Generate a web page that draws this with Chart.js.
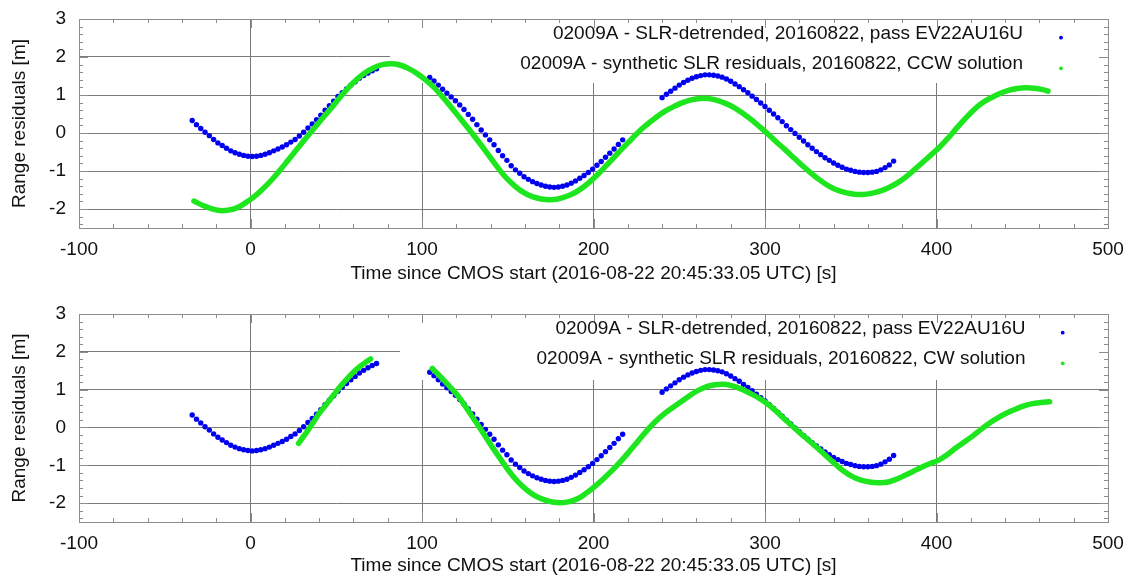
<!DOCTYPE html>
<html>
<head>
<meta charset="utf-8">
<script src="https://cdn.jsdelivr.net/npm/chart.js@4"></script>
<style>
  html, body { margin: 0; padding: 0; background: #fff; }
  .panel { width: 1130px; height: 290px; }
  canvas { display: block; }
</style>
</head>
<body>
<div class="panel"><canvas id="ccw" width="1130" height="290"></canvas></div>
<div class="panel"><canvas id="cw" width="1130" height="290"></canvas></div>
<script>
// SLR detrended residuals (same in both panels)
const slrTime = [
  -34, -31.5, -29, -26.5, -24, -21.5, -19, -16.5, -14, -11.5, -9, -6.5, -4, -1.5, 1, 3.5, 6, 8.5, 11, 13.5,
  16, 18.5, 21, 23.5, 26, 28.5, 31, 33.5, 36, 38.5, 41, 43.5, 46, 48.5, 51, 53.5, 56, 58.5, 61, 63.5,
  66, 68.5, 71, 73.5,
  104.5, 107, 109.5, 112, 114.5, 117, 119.5, 122, 124.5, 127, 129.5, 132, 134.5, 137, 139.5, 142, 144.5, 147, 149.5, 152,
  154.5, 157, 159.5, 162, 164.5, 167, 169.5, 172, 174.5, 177, 179.5, 182, 184.5, 187, 189.5, 192, 194.5, 197, 199.5, 202,
  204.5, 207, 209.5, 212, 214.5, 217,
  240, 242.5, 245, 247.5, 250, 252.5, 255, 257.5, 260, 262.5, 265, 267.5, 270, 272.5, 275, 277.5, 280, 282.5, 285, 287.5,
  290, 292.5, 295, 297.5, 300, 302.5, 305, 307.5, 310, 312.5, 315, 317.5, 320, 322.5, 325, 327.5, 330, 332.5, 335, 337.5,
  340, 342.5, 345, 347.5, 350, 352.5, 355, 357.5, 360, 362.5, 365, 367.5, 370, 372.5, 375
];
const slrRange = [
  0.33, 0.22, 0.12, 0.02, -0.07, -0.17, -0.26, -0.33, -0.40, -0.47, -0.52, -0.56, -0.59, -0.61, -0.62, -0.61, -0.59, -0.56, -0.52, -0.47,
  -0.42, -0.37, -0.31, -0.24, -0.17, -0.08, 0.02, 0.13, 0.24, 0.35, 0.47, 0.60, 0.72, 0.84, 0.96, 1.06, 1.16, 1.26, 1.35, 1.44,
  1.51, 1.58, 1.64, 1.69,
  1.46, 1.37, 1.26, 1.15, 1.05, 0.95, 0.85, 0.74, 0.62, 0.49, 0.36, 0.22, 0.08, -0.05, -0.18, -0.31, -0.46, -0.60, -0.72, -0.86,
  -0.97, -1.06, -1.15, -1.22, -1.28, -1.33, -1.37, -1.40, -1.42, -1.43, -1.42, -1.40, -1.37, -1.32, -1.26, -1.19, -1.12, -1.04, -0.95, -0.85,
  -0.75, -0.64, -0.53, -0.42, -0.30, -0.18,
  0.93, 1.02, 1.10, 1.18, 1.26, 1.33, 1.39, 1.44, 1.48, 1.51, 1.53, 1.53, 1.52, 1.50, 1.47, 1.42, 1.36, 1.29, 1.22, 1.14,
  1.06, 0.97, 0.88, 0.79, 0.70, 0.60, 0.50, 0.40, 0.30, 0.19, 0.09, -0.01, -0.11, -0.21, -0.31, -0.40, -0.49, -0.57, -0.65, -0.72,
  -0.79, -0.85, -0.90, -0.95, -0.98, -1.01, -1.03, -1.04, -1.04, -1.03, -1.01, -0.97, -0.91, -0.84, -0.74
];

// synthetic residuals, CCW solution (top panel)
const ccwTime = [
  -33, -28, -23, -18, -13, -8, -3, 2, 7, 12, 17, 22, 27, 32, 37, 42, 47, 52, 57, 62,
  67, 72, 77, 82, 87, 92, 97, 102, 107, 112, 117, 122, 127, 132, 137, 142, 147, 152, 157, 162,
  167, 172, 177, 182, 187, 192, 197, 202, 207, 212, 217, 222, 227, 232, 237, 242, 247, 252, 257, 262,
  267, 272, 277, 282, 287, 292, 297, 302, 307, 312, 317, 322, 327, 332, 337, 342, 347, 352, 357, 362,
  367, 372, 377, 382, 387, 392, 397, 402, 407, 412, 417, 422, 427, 432, 437, 442, 447, 452, 457, 462, 465
];
const ccwRange = [
  -1.79, -1.90, -1.99, -2.04, -2.03, -1.97, -1.84, -1.68, -1.48, -1.25, -0.99, -0.71, -0.43, -0.15, 0.12, 0.39, 0.65, 0.93, 1.19, 1.41,
  1.59, 1.72, 1.80, 1.82, 1.79, 1.70, 1.57, 1.40, 1.20, 0.95, 0.68, 0.40, 0.12, -0.17, -0.47, -0.78, -1.07, -1.31, -1.50, -1.63,
  -1.71, -1.75, -1.75, -1.70, -1.62, -1.49, -1.32, -1.11, -0.88, -0.64, -0.40, -0.17, 0.06, 0.25, 0.43, 0.58, 0.70, 0.80, 0.87, 0.91,
  0.91, 0.86, 0.78, 0.67, 0.52, 0.35, 0.16, -0.04, -0.25, -0.45, -0.66, -0.87, -1.06, -1.24, -1.39, -1.50, -1.57, -1.61, -1.62, -1.59,
  -1.53, -1.44, -1.32, -1.16, -0.97, -0.77, -0.57, -0.36, -0.12, 0.14, 0.39, 0.62, 0.80, 0.93, 1.04, 1.12, 1.17, 1.19, 1.18, 1.14, 1.10
];

// synthetic residuals, CW solution (bottom panel), two pieces
const cwTime1 = [28, 32, 36, 40, 44, 48, 52, 56, 60, 64, 68, 70];
const cwRange1 = [-0.42, -0.17, 0.09, 0.37, 0.60, 0.83, 1.06, 1.27, 1.46, 1.62, 1.75, 1.81];
const cwTime2 = [
  106, 111, 116, 121, 126, 131, 136, 141, 146, 151, 156, 161, 166, 171, 176, 181, 186, 191, 196, 201,
  206, 211, 216, 221, 226, 231, 236, 241, 246, 251, 256, 261, 266, 271, 276, 281, 286, 291, 296, 301,
  306, 311, 316, 321, 326, 331, 336, 341, 346, 351, 356, 361, 366, 371, 376, 381, 386, 391, 396, 401,
  406, 411, 416, 421, 426, 431, 436, 441, 446, 451, 456, 461, 466
];
const cwRange2 = [
  1.56, 1.33, 1.09, 0.83, 0.51, 0.17, -0.17, -0.52, -0.85, -1.17, -1.44, -1.65, -1.81, -1.91, -1.97, -1.99, -1.96, -1.88, -1.73, -1.55,
  -1.35, -1.13, -0.89, -0.63, -0.36, -0.09, 0.15, 0.35, 0.52, 0.68, 0.84, 0.98, 1.08, 1.13, 1.14, 1.10, 1.02, 0.91, 0.79, 0.64,
  0.45, 0.24, 0.03, -0.17, -0.36, -0.56, -0.77, -0.97, -1.16, -1.30, -1.39, -1.44, -1.46, -1.45, -1.38, -1.28, -1.17, -1.06, -0.96, -0.87,
  -0.73, -0.55, -0.39, -0.23, -0.05, 0.12, 0.26, 0.38, 0.48, 0.57, 0.63, 0.66, 0.68
];

const xTicks = [-100, 0, 100, 200, 300, 400, 500];
const yTicks = [-2, -1, 0, 1, 2, 3];

const slrLabel = "02009A - SLR-detrended, 20160822, pass EV22AU16U";
const ccwLabel = "02009A - synthetic SLR residuals, 20160822, CCW solution";
const cwLabel = "02009A - synthetic SLR residuals, 20160822, CW solution";

const FONT = '"Liberation Sans", Arial, sans-serif';
const BLUE = "#0000f0";
const GREEN = "#1ee61e";

const pts = (xs, ys) => xs.map((x, i) => ({ x, y: ys[i] }));

// gnuplot-ish frame, mirrored tics, opaque key box
const gnuFrame = {
  id: "gnuFrame",
  beforeDatasetsDraw(chart, args, o) {
    const { ctx, chartArea: a } = chart;
    ctx.save();
    ctx.fillStyle = "#fff";
    ctx.fillRect(o.boxLeft, a.top + 1, a.right - o.boxLeft, o.boxBottom - a.top - 1);
    ctx.restore();
  },
  afterDatasetsDraw(chart, args, o) {
    const { ctx, chartArea: a, scales: { x, y } } = chart;
    ctx.save();
    ctx.strokeStyle = "#8c8c8c";
    ctx.lineWidth = 1;
    ctx.beginPath();
    for (let v = -100; v <= 500; v += 20) {
      const px = Math.round(x.getPixelForValue(v)) + 0.5;
      const len = v % 100 === 0 ? 9 : 4;
      ctx.moveTo(px, a.bottom); ctx.lineTo(px, a.bottom - len);
      ctx.moveTo(px, a.top); ctx.lineTo(px, a.top + len);
    }
    for (let k = -12; k <= 15; k++) {
      const v = k / 5;
      const py = Math.round(y.getPixelForValue(v)) + 0.5;
      const len = k % 5 === 0 ? 9 : 4;
      ctx.moveTo(a.left, py); ctx.lineTo(a.left + len, py);
      ctx.moveTo(a.right, py); ctx.lineTo(a.right - len, py);
    }
    ctx.stroke();
    ctx.strokeRect(Math.round(a.left) + 0.5, Math.round(a.top) + 0.5,
      Math.round(a.right - a.left), Math.round(a.bottom - a.top));

    // key
    ctx.font = "19px " + FONT;
    ctx.textAlign = "right";
    ctx.textBaseline = "middle";
    chart.data.datasets.filter(ds => !ds.keyHidden).forEach((ds, i) => {
      ctx.fillStyle = "#111";
      ctx.fillText(ds.label, o.textRight, a.top + 15 + 30 * i);
      ctx.beginPath();
      ctx.fillStyle = ds.pointBackgroundColor;
      ctx.arc(o.dotX, a.top + 18.7 + 30.6 * i, 1.9, 0, Math.PI * 2);
      ctx.fill();
    });
    ctx.restore();
  }
};

function makePanel(id, datasets, lay) {
  return new Chart(document.getElementById(id), {
    type: "scatter",
    data: { datasets },
    options: {
      responsive: false,
      animation: false,
      layout: { padding: { top: lay.top, right: 22, left: 0, bottom: 0 } },
      plugins: {
        legend: { display: false },
        tooltip: { enabled: false },
        gnuFrame: lay.key
      },
      scales: {
        x: {
          type: "linear",
          min: -100,
          max: 500,
          afterBuildTicks: s => { s.ticks = xTicks.map(v => ({ value: v })); },
          afterFit: s => { s.height = lay.xHeight; s.paddingLeft = 0; s.paddingRight = 0; },
          border: { display: false },
          grid: {
            drawTicks: false,
            color: c => (c.tick && (c.tick.value === -100 || c.tick.value === 500)) ? "rgba(0,0,0,0)" : "#7a7a7a"
          },
          ticks: { padding: 10, color: "#111", font: { family: FONT, size: 19 } },
          title: {
            display: true,
            text: "Time since CMOS start (2016-08-22 20:45:33.05 UTC) [s]",
            color: "#111",
            font: { family: FONT, size: 19 },
            padding: { top: 0, bottom: lay.titlePad }
          }
        },
        y: {
          type: "linear",
          min: -2.5,
          max: 3,
          afterBuildTicks: s => { s.ticks = yTicks.map(v => ({ value: v })); },
          afterFit: s => { s.width = 79; s.paddingTop = 0; s.paddingBottom = 0; },
          border: { display: false },
          grid: {
            drawTicks: false,
            color: c => (c.tick && c.tick.value === 3) ? "rgba(0,0,0,0)" : "#7a7a7a"
          },
          ticks: { padding: 13, color: "#111", font: { family: FONT, size: 19 } },
          title: {
            display: true,
            text: "Range residuals [m]",
            color: "#111",
            font: { family: FONT, size: 19 },
            padding: { top: 8, bottom: 0 }
          }
        }
      }
    },
    plugins: [gnuFrame]
  });
}

function slrSet() {
  return {
    label: slrLabel,
    data: pts(slrTime, slrRange),
    order: 1,
    showLine: false,
    pointRadius: 2.7,
    pointBorderWidth: 0,
    pointBackgroundColor: BLUE,
    borderColor: BLUE
  };
}

function synthSet(label, time, range) {
  return {
    label,
    data: pts(time, range),
    order: 0,
    showLine: true,
    tension: 0.4,
    borderWidth: 5.5,
    borderColor: GREEN,
    borderCapStyle: "round",
    borderJoinStyle: "round",
    pointRadius: 0,
    pointBackgroundColor: GREEN
  };
}

makePanel("ccw", [slrSet(), synthSet(ccwLabel, ccwTime, ccwRange)], {
  top: 19, xHeight: 62, titlePad: 5,
  key: { boxLeft: 390, boxBottom: 83, textRight: 1023, dotX: 1061 }
});

makePanel("cw", [
  slrSet(),
  synthSet(cwLabel, cwTime1, cwRange1),
  Object.assign(synthSet(cwLabel, cwTime2, cwRange2), { keyHidden: true })
], {
  top: 24, xHeight: 58, titlePad: 3,
  key: { boxLeft: 400, boxBottom: 90, textRight: 1025.5, dotX: 1062.7 }
});
</script>
</body>
</html>
